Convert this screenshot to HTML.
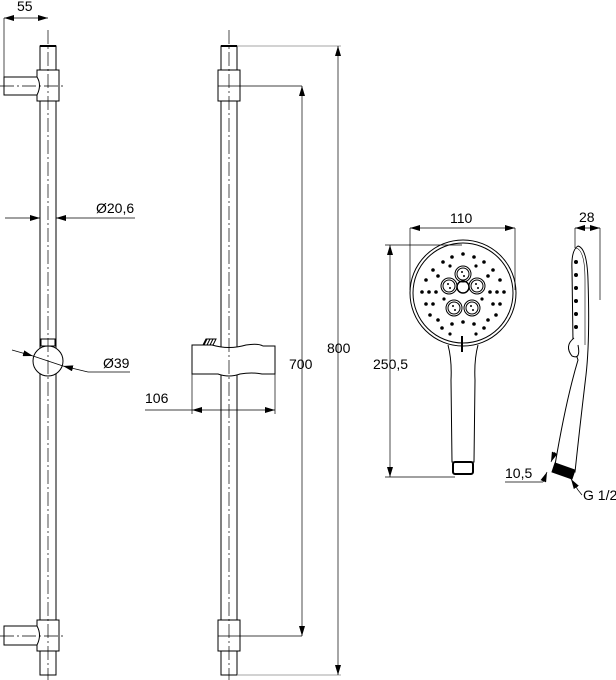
<!DOCTYPE html>
<html><head><meta charset="utf-8"><style>
html,body{margin:0;padding:0;background:#fff}
svg{display:block}
text{font-family:"Liberation Sans",sans-serif;font-size:14px;fill:#000}
</style></head><body>
<svg width="616" height="680" viewBox="0 0 616 680" xmlns="http://www.w3.org/2000/svg">
<defs>
<marker id="a" viewBox="0 0 10 6" refX="10" refY="3" markerWidth="10" markerHeight="6" orient="auto-start-reverse" markerUnits="userSpaceOnUse"><path d="M0,0L10,3L0,6z" fill="#000"/></marker>
</defs>
<g fill="none" stroke="#000" stroke-width="1">
<rect x="40" y="46" width="16" height="629" fill="#fff"/>
<line x1="40" y1="46" x2="56" y2="46" stroke-width="2"/>
<rect x="37" y="70" width="22" height="31" fill="#fff"/>
<path d="M4,77H37Q42,85 37,95H4Z" fill="#fff"/>
<rect x="37" y="620" width="22" height="31" fill="#fff"/>
<path d="M4,626H37Q42,635 37,645H4Z" fill="#fff"/>
<circle cx="48" cy="361" r="15" fill="#fff"/>
<rect x="41" y="339" width="14" height="7" fill="#fff"/>
<line x1="48" y1="30" x2="48" y2="680" stroke-dasharray="14,3,2,3" stroke-width="0.7"/>
<line x1="0" y1="86" x2="66" y2="86" stroke-dasharray="14,3,2,3" stroke-width="0.7"/>
<line x1="0" y1="636" x2="66" y2="636" stroke-dasharray="14,3,2,3" stroke-width="0.7"/>
<line x1="4" y1="18" x2="4" y2="77" stroke-width="0.7"/>
<line x1="4" y1="18" x2="48" y2="18" marker-start="url(#a)" marker-end="url(#a)" stroke-width="0.7"/>
<line x1="5" y1="218" x2="40" y2="218" marker-end="url(#a)" stroke-width="0.7"/>
<line x1="135" y1="218" x2="56" y2="218" marker-end="url(#a)" stroke-width="0.7"/>
<line x1="12" y1="350" x2="33" y2="356" marker-end="url(#a)" stroke-width="0.7"/>
<line x1="33" y1="356" x2="63" y2="366" stroke-width="0.7"/>
<line x1="88" y1="372" x2="63" y2="366" marker-end="url(#a)" stroke-width="0.7"/>
<line x1="88" y1="372" x2="130" y2="372" stroke-width="0.7"/>

<rect x="221" y="46" width="16" height="629" fill="#fff"/>
<line x1="221" y1="46" x2="237" y2="46" stroke-width="2"/>
<rect x="218" y="70" width="22" height="31" fill="#fff"/>
<line x1="218" y1="86" x2="302" y2="86" stroke-width="0.7"/>
<rect x="218" y="620" width="22" height="31" fill="#fff"/>
<line x1="218" y1="636" x2="302" y2="636" stroke-width="0.7"/>
<path d="M192,345H212Q229,350 246,345Q258,343 263,346H275V374H262Q252,372 240,374Q229,378 218,374H192Z" fill="#fff"/>
<path d="M203,345L206,339H216L213,345Z M207,339L204,345 M210,339L207,345 M213,339L210,345" fill="#fff"/>
<line x1="229" y1="30" x2="229" y2="680" stroke-dasharray="14,3,2,3" stroke-width="0.7"/>
<line x1="192" y1="374" x2="192" y2="414" stroke-width="0.7"/>
<line x1="275" y1="374" x2="275" y2="414" stroke-width="0.7"/>
<line x1="145" y1="410" x2="192" y2="410" stroke-width="0.7"/>
<line x1="192" y1="410" x2="275" y2="410" marker-start="url(#a)" marker-end="url(#a)" stroke-width="0.7"/>
<line x1="302" y1="86" x2="302" y2="636" marker-start="url(#a)" marker-end="url(#a)" stroke-width="0.7"/>
<line x1="237" y1="46" x2="341" y2="46" stroke-width="0.7" stroke="#888"/>
<line x1="237" y1="675" x2="341" y2="675" stroke-width="0.7" stroke="#888"/>
<line x1="338" y1="46" x2="338" y2="675" marker-start="url(#a)" marker-end="url(#a)" stroke-width="0.7"/>

<path d="M448,345 Q452,360 451,380 L452,462 H474 L475,380 Q474,360 478,345" fill="#fff"/>
<circle cx="463" cy="293" r="53" fill="#fff"/>
<circle cx="463" cy="293" r="50"/>
<rect x="453" y="462" width="20" height="12" rx="2" fill="#fff" stroke-width="2"/>
<line x1="462" y1="336" x2="462" y2="352" stroke-width="2"/>
<circle cx="463" cy="287" r="6" stroke-width="1.5"/>
<circle cx="463" cy="274" r="6"/><circle cx="463" cy="274" r="8"/>
<circle cx="449" cy="286" r="6"/><circle cx="449" cy="286" r="8"/>
<circle cx="477" cy="286" r="6"/><circle cx="477" cy="286" r="8"/>
<circle cx="454" cy="308" r="6"/><circle cx="454" cy="308" r="8"/>
<circle cx="472" cy="308" r="6"/><circle cx="472" cy="308" r="8"/>

<line x1="410" y1="228" x2="410" y2="290" stroke-width="0.7"/>
<line x1="515" y1="228" x2="515" y2="290" stroke-width="0.7"/>
<line x1="410" y1="228" x2="515" y2="228" marker-start="url(#a)" marker-end="url(#a)" stroke-width="0.7"/>
<line x1="385" y1="245" x2="462" y2="245" stroke-width="0.7"/>
<line x1="385" y1="477" x2="455" y2="477" stroke-width="0.7"/>
<line x1="390" y1="245" x2="390" y2="477" marker-start="url(#a)" marker-end="url(#a)" stroke-width="0.7"/>

<path d="M578,246 Q571,250 572,270 L573,342 Q575,352 578,360 Q566,400 555,465 L575,472 Q580,425 586,375 Q590,340 588,280 Q587,248 578,246Z" fill="#fff"/>
<path d="M576,248 Q585,250 585,280 L585,345" stroke-width="0.6"/>
<path d="M574,338 Q564,346 572,356 Q581,360 578,345" fill="#fff"/>
<path d="M555,463 L575,470 L572,479 L552,472 Z" fill="#000"/>
<line x1="575" y1="228" x2="575" y2="248" stroke-width="0.7"/>
<line x1="600" y1="228" x2="600" y2="300" stroke-width="0.7"/>
<line x1="575" y1="228" x2="600" y2="228" marker-start="url(#a)" marker-end="url(#a)" stroke-width="0.7"/>
<line x1="543" y1="482" x2="547" y2="472" marker-end="url(#a)" stroke-width="0.7"/>
<line x1="555" y1="452" x2="551" y2="462" marker-end="url(#a)" stroke-width="0.7"/>
<line x1="505" y1="482" x2="543" y2="482" stroke-width="0.7"/>
<line x1="578" y1="490" x2="571" y2="479" marker-end="url(#a)" stroke-width="0.7"/>
<line x1="578" y1="490" x2="582" y2="495" stroke-width="0.7"/>
</g>
<g fill="#000">
<circle cx="433" cy="270" r="1.8"/><circle cx="443" cy="262" r="1.8"/><circle cx="452" cy="257" r="1.8"/><circle cx="463" cy="254" r="1.8"/><circle cx="474" cy="257" r="1.8"/><circle cx="484" cy="262" r="1.8"/><circle cx="493" cy="270" r="1.8"/>
<circle cx="426" cy="280" r="1.8"/><circle cx="500" cy="280" r="1.8"/>
<circle cx="422" cy="292" r="1.8"/><circle cx="429" cy="292" r="1.8"/><circle cx="436" cy="292" r="1.8"/><circle cx="490" cy="292" r="1.8"/><circle cx="497" cy="292" r="1.8"/><circle cx="504" cy="292" r="1.8"/>
<circle cx="426" cy="304" r="1.8"/><circle cx="433" cy="304" r="1.8"/><circle cx="493" cy="304" r="1.8"/><circle cx="500" cy="304" r="1.8"/>
<circle cx="430" cy="315" r="1.8"/><circle cx="438" cy="320" r="1.8"/><circle cx="488" cy="320" r="1.8"/><circle cx="496" cy="315" r="1.8"/>
<circle cx="442" cy="328" r="1.8"/><circle cx="452" cy="324" r="1.8"/><circle cx="463" cy="322" r="1.8"/><circle cx="474" cy="324" r="1.8"/><circle cx="484" cy="328" r="1.8"/>
<circle cx="438" cy="276" r="1.8"/><circle cx="488" cy="276" r="1.8"/><circle cx="450" cy="266" r="1.6"/><circle cx="476" cy="266" r="1.6"/>
<circle cx="444" cy="299" r="1.6"/><circle cx="482" cy="299" r="1.6"/><circle cx="450" cy="334" r="1.6"/><circle cx="476" cy="334" r="1.6"/>
<circle cx="462" cy="272" r="1"/><circle cx="464" cy="276" r="1"/><circle cx="448" cy="284" r="1"/><circle cx="450" cy="288" r="1"/><circle cx="476" cy="284" r="1"/><circle cx="478" cy="288" r="1"/><circle cx="453" cy="306" r="1"/><circle cx="455" cy="310" r="1"/><circle cx="471" cy="306" r="1"/><circle cx="473" cy="310" r="1"/>
<circle cx="576" cy="262" r="2"/><circle cx="576" cy="275" r="2"/><circle cx="576" cy="288" r="2"/><circle cx="576" cy="301" r="2"/><circle cx="576" cy="314" r="2"/><circle cx="576" cy="327" r="2"/>
</g>
<text x="17" y="11">55</text>
<text x="96" y="213">Ø20,6</text>
<text x="103" y="368">Ø39</text>
<text x="145" y="403">106</text>
<text x="289" y="369">700</text>
<text x="327" y="353">800</text>
<text x="450" y="223">110</text>
<text x="373" y="369">250,5</text>
<text x="579" y="222">28</text>
<text x="505" y="478">10,5</text>
<text x="583" y="500">G 1/2</text>
</svg>
</body></html>
